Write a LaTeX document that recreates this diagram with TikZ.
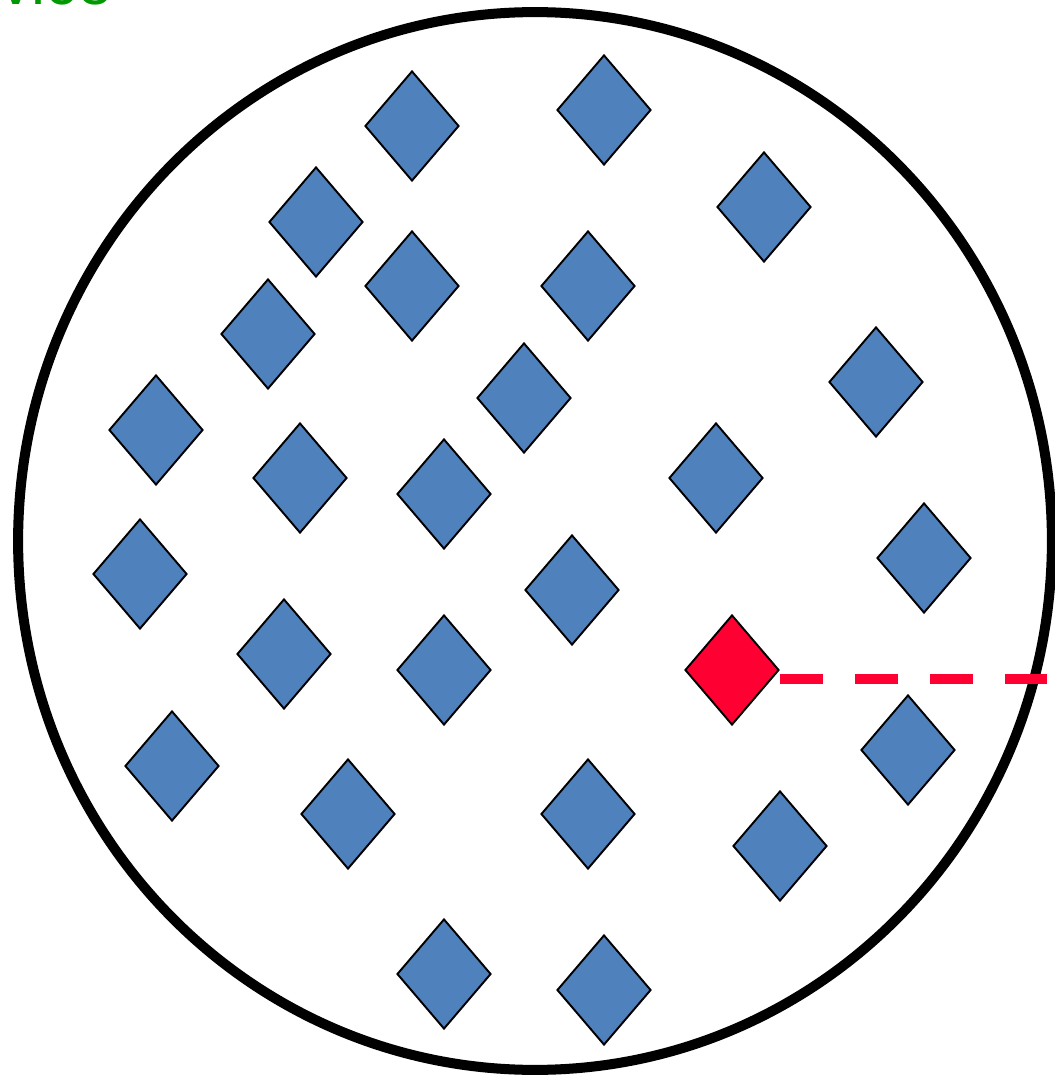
\documentclass[tikz,border=0pt]{standalone}
\usepackage{fontspec}
\setmainfont{Liberation Sans}
\usetikzlibrary{positioning,shapes.geometric}

\definecolor{itemblue}{RGB}{79,129,189}
\definecolor{targetred}{RGB}{255,0,51}
\definecolor{devgreen}{RGB}{0,153,0}

\begin{document}
\begin{tikzpicture}[
  x=0.02cm, y=-0.02cm,
  item/.style={diamond, draw=black, line width=1.1pt, fill=itemblue,
               inner sep=0pt, minimum width=1.88cm, minimum height=2.2cm},
  target/.style={item, fill=targetred},
  link/.style={targetred, line width=5.7pt, dash pattern=on 0.86cm off 0.64cm},
  rim/.style={black, line width=5.7pt}
]
  \useasboundingbox (0,0) rectangle (1054,1077);

  % --- label, cut by the top edge ---
  \node[anchor=base east, inner sep=0pt, text=devgreen,
        font=\fontsize{36}{40}\selectfont] (label) at (113,5) {vice};

  % --- area boundary ---
  \coordinate (mid) at (535,541);
  \draw[rim] (mid) ellipse [x radius=10.34cm, y radius=10.58cm];

  % --- scattered items ---
  \foreach \x/\y/\name in {412/126/d1, 604/110/d2, 764/207/d3, 316/222/d4,
      412/286/d5, 588/286/d6, 268/334/d7, 876/382/d8, 524/398/d9,
      156/430/d10, 300/478/d11, 444/494/d12, 716/478/d13, 924/558/d14,
      140/574/d15, 572/590/d16, 284/654/d17, 444/670/d18, 908/750/d19,
      172/766/d20, 348/814/d21, 588/814/d22, 780/846/d23, 444/974/d24,
      604/990/d25} {
    \node[item] (\name) at (\x,\y) {};
  }

  % --- selected item and its link to the boundary ---
  \node[target] (tag) at (732,670) {};
  \coordinate (edge) at (1047,679);
  \draw[link] (tag.east |- edge) -- (edge);

\end{tikzpicture}
\end{document}
